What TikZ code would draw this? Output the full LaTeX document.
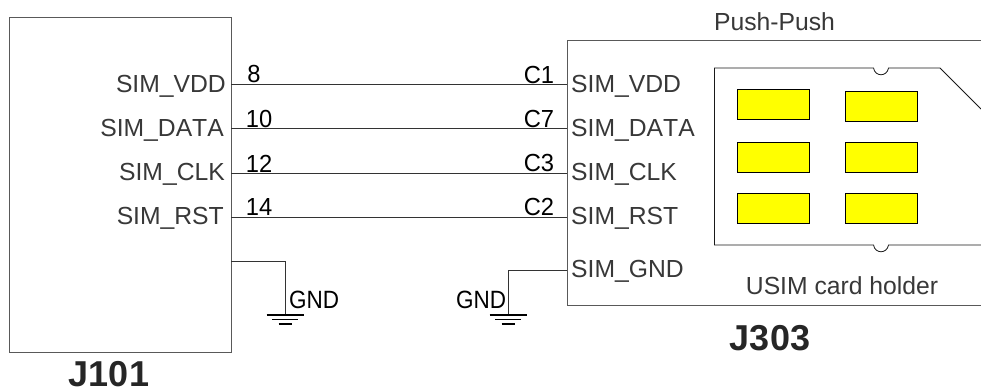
\documentclass[tikz,border=0pt]{standalone}
\usepackage{fontspec}
\usetikzlibrary{calc}
\setmainfont[Kerning=Off]{Liberation Sans}
\definecolor{padyellow}{RGB}{255,255,0}
\tikzset{
  x=1pt,y=-1pt,
  boxline/.style={draw=black!65,line width=1pt},
  wire/.style={draw=black!80,line width=1pt},
  card/.style={draw=black!90,line width=0.8pt},
  pad/.style={draw=black,fill=padyellow,line width=0.8pt,minimum width=72pt,minimum height=30.5pt,inner sep=0pt,anchor=north west},
  pinname/.style={font=\fontsize{24.7}{25}\selectfont,text=black!78,inner sep=0pt},
  pinnum/.style={font=\fontsize{24.7}{25}\selectfont,text=black,inner sep=0pt,anchor=base,xscale=0.96},
  gndtext/.style={font=\fontsize{25}{25}\selectfont,text=black,inner sep=0pt,anchor=base,xscale=0.9},
  title/.style={font=\bfseries\fontsize{36}{36}\selectfont,text=black!85,inner sep=0pt,anchor=base},
  bar1/.style={draw=black,line width=1.6pt},
}
\begin{document}
\begin{tikzpicture}
\useasboundingbox (0,0) rectangle (981,389);
\fill[white] (0,0) rectangle (981,389);
% J101 box
\node[boxline,minimum width=222pt,minimum height=335pt,inner sep=0pt,anchor=north west] (J1box) at (9,17) {};
% J303 open box
\coordinate (Jtr) at (981,40);
\coordinate (Jtl) at (567,40);
\coordinate (Jbl) at (567,305);
\coordinate (Jbr) at (981,305);
\draw[boxline] (Jtr) -- (Jtl) -- (Jbl) -- (Jbr);
% pin coordinates
\coordinate (La) at (231,84);  \coordinate (Ra) at (567,84);
\coordinate (Lb) at (231,128); \coordinate (Rb) at (567,128);
\coordinate (Lc) at (231,173); \coordinate (Rc) at (567,173);
\coordinate (Ld) at (231,217); \coordinate (Rd) at (567,217);
\coordinate (Lg) at (231,261); \coordinate (Rg) at (567,270);
\coordinate (Lgc) at (285,261); \coordinate (Lgd) at (285,315);
\coordinate (Rgc) at (508,270); \coordinate (Rgd) at (508,315);
\draw[wire] (La) -- (Ra);
\draw[wire] (Lb) -- (Rb);
\draw[wire] (Lc) -- (Rc);
\draw[wire] (Ld) -- (Rd);
\draw[wire] (Lg) -- (Lgc) -- (Lgd);
\draw[wire] (Rg) -- (Rgc) -- (Rgd);
% grounds
\draw[bar1] ($(Lgd)+(-18.5,0)$) -- ($(Lgd)+(18.5,0)$);
\draw[bar1] ($(Lgd)+(-13,4.5)$) -- ($(Lgd)+(13,4.5)$);
\draw[bar1] ($(Lgd)+(-6.5,9)$) -- ($(Lgd)+(6.5,9)$);
\draw[bar1] ($(Rgd)+(-18.5,0)$) -- ($(Rgd)+(18.5,0)$);
\draw[bar1] ($(Rgd)+(-13,4.5)$) -- ($(Rgd)+(13,4.5)$);
\draw[bar1] ($(Rgd)+(-6.5,9)$) -- ($(Rgd)+(6.5,9)$);
% card outline
\draw[card] (981,109) -- (940,68) -- (888.5,68)
  .. controls (887,77) and (875,77) .. (873.5,68) -- (714.5,68) -- (714.5,245) -- (873.5,245)
  .. controls (875,254) and (887,254) .. (888.5,245) -- (981,245);
% pads
\node[pad] (p1) at (737,88.5) {};
\node[pad] (p2) at (845,90.5) {};
\node[pad] (p3) at (737,141.5) {};
\node[pad] (p4) at (845,141.5) {};
\node[pad] (p5) at (737,192.5) {};
\node[pad] (p6) at (845,192.5) {};
% left pin names
\node[pinname,anchor=base east] (t1) at (226,92) {SIM\_VDD};
\node[pinname,anchor=base east] (t2) at (224,136) {SIM\_DATA};
\node[pinname,anchor=base east] (t3) at (225,180) {SIM\_CLK};
\node[pinname,anchor=base east] (t4) at (224,224) {SIM\_RST};
% right pin names
\node[pinname,anchor=base west] (t5) at (571,92) {SIM\_VDD};
\node[pinname,anchor=base west] (t6) at (571,136) {SIM\_DATA};
\node[pinname,anchor=base west] (t7) at (571,180) {SIM\_CLK};
\node[pinname,anchor=base west] (t8) at (571,224) {SIM\_RST};
\node[pinname,anchor=base west] (t9) at (571,277) {SIM\_GND};
% numbers
\node[pinnum] (n1) at (254,82) {8};
\node[pinnum] (n2) at (259,127) {10};
\node[pinnum] (n3) at (259,172) {12};
\node[pinnum] (n4) at (259,215) {14};
\node[pinnum] (c1) at (539,83) {C1};
\node[pinnum] (c2) at (539,127) {C7};
\node[pinnum] (c3) at (539,171) {C3};
\node[pinnum] (c4) at (539,215) {C2};
% gnd
\node[gndtext] (g1) at (314,308) {GND};
\node[gndtext] (g2) at (481,308) {GND};
% titles
\node[title] (J101) at (109,386) {J101};
\node[title] (J303) at (770,350) {J303};
\node[pinname,anchor=base] (pp) at (774.5,30) {Push-Push};
\node[pinname,anchor=base] (us) at (842,294) {USIM card holder};
\end{tikzpicture}
\end{document}
